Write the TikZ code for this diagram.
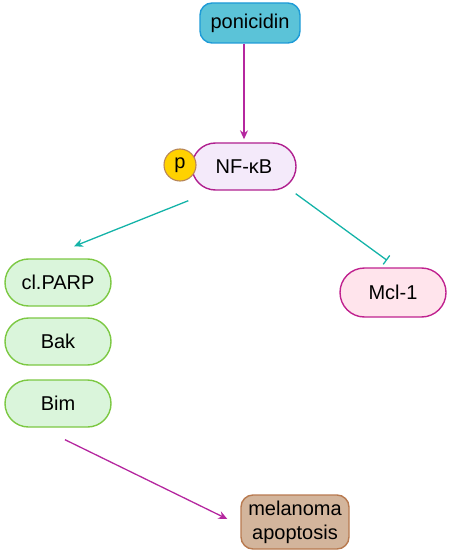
\documentclass[tikz,border=0pt]{standalone}
\usepackage{fontspec}
\setmainfont{Liberation Sans}
\usetikzlibrary{arrows.meta,shapes.misc}
\definecolor{poniFill}{HTML}{5BC3D8}
\definecolor{poniDraw}{HTML}{1E9BD7}
\definecolor{nfFill}{HTML}{F4EAFA}
\definecolor{purp}{HTML}{B0208F}
\definecolor{pFill}{HTML}{FFD200}
\definecolor{pDraw}{HTML}{B8865A}
\definecolor{grFill}{HTML}{DAF5DB}
\definecolor{grDraw}{HTML}{7CC843}
\definecolor{mcFill}{HTML}{FFE4EC}
\definecolor{mcDraw}{HTML}{C0228F}
\definecolor{melFill}{HTML}{D3B59C}
\definecolor{melDraw}{HTML}{B87A50}
\definecolor{tealc}{HTML}{14B3A8}
\definecolor{arrp}{HTML}{B5279F}
\tikzset{
  lbl/.style={font=\fontsize{20}{24}\selectfont, inner sep=0pt, align=center},
  pill/.style={lbl, rounded rectangle, line width=1.4pt, minimum width=106pt, minimum height=47pt},
  rbox/.style={lbl, rectangle, rounded corners=12pt, line width=1.4pt},
  actarrow/.style={line width=1.3pt, -{Stealth[length=9pt,width=8pt]}},
  inharrow/.style={line width=1.3pt, -{Bar[width=11pt,line width=1.3pt]}}
}
\begin{document}
\begin{tikzpicture}[x=1pt,y=-1pt]
\useasboundingbox (0,0) rectangle (450,553);
\node[rbox, fill=poniFill, draw=poniDraw, minimum width=100pt, minimum height=40pt] (poni) at (250,23) {ponicidin};
\node[pill, fill=nfFill, draw=purp, minimum width=104pt] (nfkb) at (244,166.5) {NF-κB};
\node[lbl, circle, fill=pFill, draw=pDraw, line width=1.1pt, minimum size=32pt] (p) at (180,165) {p};
\node[pill, fill=grFill, draw=grDraw] (clparp) at (58,282.5) {cl.PARP};
\node[pill, fill=grFill, draw=grDraw] (bak) at (58,341.5) {Bak};
\node[pill, fill=grFill, draw=grDraw] (bim) at (58,403.5) {Bim};
\node[pill, fill=mcFill, draw=mcDraw, minimum height=49pt] (mcl) at (393,292.5) {Mcl-1};
\node[rbox, fill=melFill, draw=melDraw, minimum width=108pt, minimum height=54pt] (mel) at (295,522) {melanoma\\apoptosis};
\draw[actarrow, arrp] (poni.south -| nfkb.north) -- ([yshift=3pt]nfkb.north);
\draw[actarrow, tealc] ([xshift=-3pt,yshift=-10pt]nfkb.south -| nfkb.west) -- ([xshift=16pt,yshift=12pt]clparp.north);
\draw[inharrow, tealc] ([xshift=-1pt,yshift=-3pt]nfkb.south -| nfkb.east) -- ([xshift=-6pt,yshift=7pt]mcl.north);
\draw[actarrow, arrp] ([xshift=7pt,yshift=-12pt]bim.south) -- ([xshift=-13pt,yshift=3pt]mel.west);
\end{tikzpicture}
\end{document}
